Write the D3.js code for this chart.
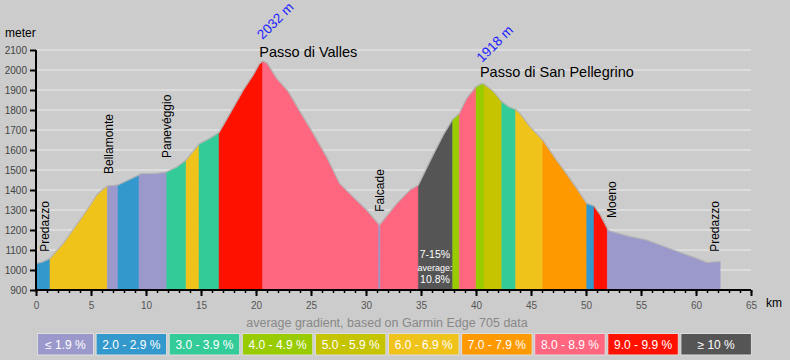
<!DOCTYPE html>
<html><head><meta charset="utf-8">
<script src="https://cdn.jsdelivr.net/npm/d3@7"></script>
<style>
body{margin:0;background:#cccccc;}
svg{display:block;font-family:"Liberation Sans",Arial,Helvetica,sans-serif;}
</style></head><body>
<svg id="c" width="790" height="360"></svg>
<script>
// ---- data ----
const profileKm = [0,0.6,1.27,2.48,4.0,5.0,5.52,6.0,6.48,7.45,8.4,9.36,9.5,11.0,11.88,12.8,13.64,14.82,15.7,16.64,
  17.64,18.85,19.75,20.3,20.6,21.0,21.88,22.94,24.0,25.2,26.4,27.6,28.5,30.06,31.15,31.22,31.3,32.8,34.0,34.76,
  36.1,37.03,37.88,38.48,39.15,40.0,40.5,40.73,41.6,42.34,43.0,43.6,44.0,44.9,46.06,47.3,48.2,49.15,50.06,50.73,
  51.3,51.94,52.0,54.0,55.5,57.94,60.06,61.0,61.6,62.2];
const profileElev = [1033,1040,1058,1133,1250,1330,1375,1400,1420,1425,1450,1475,1482,1483,1490,1515,1550,1630,1655,1687,
  1783,1900,1975,2030,2045,2035,1958,1892,1792,1683,1567,1433,1383,1300,1230,1225,1230,1333,1400,1425,
  1575,1675,1753,1783,1858,1917,1932,1930,1892,1842,1815,1803,1783,1717,1650,1550,1483,1408,1333,1320,
  1275,1208,1197,1167,1150,1100,1058,1037,1040,1042];
const segStart = [0,1.27,6.48,7.45,9.36,11.88,13.64,14.82,16.64,20.6,31.15,31.3,34.76,37.88,38.48,40.0,40.73,42.34,43.6,46.06,50.06,50.73,51.94];
const segEnd   = [1.27,6.48,7.45,9.36,11.88,13.64,14.82,16.64,20.6,31.15,31.3,34.76,37.88,38.48,40.0,40.73,42.34,43.6,46.06,50.06,50.73,51.94,62.2];
const segClass = [1,5,0,1,0,2,5,2,8,7,0,7,9,3,7,3,4,2,5,6,1,8,0];
const classLabels = ["≤ 1.9 %","2.0 - 2.9 %","3.0 - 3.9 %","4.0 - 4.9 %","5.0 - 5.9 %","6.0 - 6.9 %","7.0 - 7.9 %","8.0 - 8.9 %","9.0 - 9.9 %","≥ 10 %"];
const classColors = ["#9b99cc","#3399cc","#33cc99","#99cc00","#c6c300","#f0c31a","#ff9900","#ff6680","#ff1100","#555555"];
const xTickValues = d3.range(0,66,5);
const xMinorValues = d3.range(0,66,1);
const yTickValues = d3.range(900,2101,100);
const placeNames = ["Predazzo","Bellamonte","Panevéggio","Falcade","Moeno","Predazzo"];
const placeKm    = [0.82,6.64,11.88,31.27,52.34,61.73];
const placeElev  = [1091,1480,1560,1291,1260,1091];
const passNames  = ["Passo di Valles","Passo di San Pellegrino"];
const passKm     = [20.3,40.36];
const passElev   = [2065,1965];
const summitText = ["2032 m","1918 m"];
const summitKm   = [20.6,40.55];
const summitElev = [2150,2035];
const noteLines  = ["7-15%","average:","10.8%"];
const noteKm     = 36.27;
const noteElev   = [1060,995,935];
const subtitle   = "average gradient, based on Garmin Edge 705 data";

// ---- layout ----
const svg = d3.select("#c");
const x = d3.scaleLinear().domain([0,65]).range([36,751]);
const y = d3.scaleLinear().domain([900,2100]).range([290,50]);
const pts = profileKm.map((k,i)=>({k, e:profileElev[i]}));

// gridlines
svg.append("g").selectAll("line").data(yTickValues.filter(v=>v>900)).join("line")
  .attr("x1",x(0)).attr("x2",x(65)).attr("y1",d=>y(d)).attr("y2",d=>y(d))
  .attr("stroke","#dcdcdc").attr("stroke-width",2);

// colored segments
const area = d3.area().x(d=>x(d.k)).y0(y(900)).y1(d=>y(d.e));
const gSeg = svg.append("g");
segStart.forEach((s,i)=>{
  const e = segEnd[i];
  const sub = pts.filter(p=>p.k>=s-1e-9 && p.k<=e+1e-9);
  gSeg.append("path").datum(sub).attr("d",area)
    .attr("fill",classColors[segClass[i]])
    .attr("stroke",classColors[segClass[i]]).attr("stroke-width",0.5);
});
// outline
svg.append("path").datum(pts)
  .attr("d",d3.line().x(d=>x(d.k)).y(d=>y(d.e)))
  .attr("fill","none").attr("stroke","#b4b4b4").attr("stroke-width",1.2);

// axes
const yAxis = d3.axisLeft(y).tickValues(yTickValues).tickSize(6).tickPadding(3).tickFormat(d3.format("d"));
const gy = svg.append("g").attr("transform",`translate(${x(0)},0)`).call(yAxis);
gy.select(".domain").attr("stroke","#000").attr("stroke-width",2).attr("d",`M0,${y(2100)}V${y(900)}`);
gy.selectAll(".tick line").attr("stroke","#000").attr("stroke-width",2);
gy.selectAll(".tick text").attr("fill","#444").attr("font-size",10).attr("font-family","Liberation Sans, Arial, sans-serif");

const xMinor = d3.axisBottom(x).tickValues(xMinorValues).tickSize(3).tickFormat("");
const gxm = svg.append("g").attr("transform",`translate(0,${y(900)})`).call(xMinor);
gxm.select(".domain").remove();
gxm.selectAll(".tick line").attr("stroke","#000").attr("stroke-width",1.5);
const xAxis = d3.axisBottom(x).tickValues(xTickValues).tickSize(6).tickPadding(6).tickFormat(d3.format("d"));
const gx = svg.append("g").attr("transform",`translate(0,${y(900)})`).call(xAxis);
gx.select(".domain").attr("stroke","#000").attr("stroke-width",2).attr("d",`M${x(0)-1},0H${x(65)}`);
gx.selectAll(".tick line").attr("stroke","#000").attr("stroke-width",2);
gx.selectAll(".tick text").attr("fill","#555").attr("font-size",10).attr("font-family","Liberation Sans, Arial, sans-serif");

svg.append("text").attr("x",5).attr("y",37).attr("font-size",12).attr("fill","#000").text("meter");
svg.append("text").attr("x",766).attr("y",307).attr("font-size",12).attr("fill","#000").text("km");

// place labels
placeNames.forEach((n,i)=>{
  svg.append("text")
    .attr("transform",`translate(${x(placeKm[i])},${y(placeElev[i])}) rotate(-90)`)
    .attr("dy","0.35em").attr("font-size",12).attr("fill","#000").text(n);
});
passNames.forEach((n,i)=>{
  svg.append("text").attr("x",x(passKm[i])).attr("y",y(passElev[i]))
    .attr("font-size",14.5).attr("fill","#000").text(n);
});
summitText.forEach((n,i)=>{
  svg.append("text")
    .attr("transform",`translate(${x(summitKm[i])},${y(summitElev[i])}) rotate(-45)`)
    .attr("font-size",13.5).attr("fill","#1a1aff").text(n);
});
noteLines.forEach((n,i)=>{
  svg.append("text").attr("x",x(noteKm)).attr("y",y(noteElev[i]))
    .attr("text-anchor","middle").attr("font-size",i===1?9:10.5).attr("fill","#fff").text(n);
});

// subtitle
svg.append("text").attr("x",387).attr("y",327).attr("text-anchor","middle")
  .attr("font-size",12.5).attr("fill","#888").text(subtitle);

// legend
let lx = 37.5;
const gL = svg.append("g");
classLabels.forEach((lab,i)=>{
  const w = i===0 ? 56 : 70.5;
  gL.append("rect").attr("x",lx).attr("y",333.5).attr("width",w).attr("height",21.5)
    .attr("fill",classColors[i]).attr("stroke","#dddddd").attr("stroke-width",1);
  gL.append("text").attr("x",lx+w/2).attr("y",349).attr("text-anchor","middle")
    .attr("font-size",12).attr("fill","#fff").text(lab);
  lx += w + 2.6;
});
</script>
</body></html>
